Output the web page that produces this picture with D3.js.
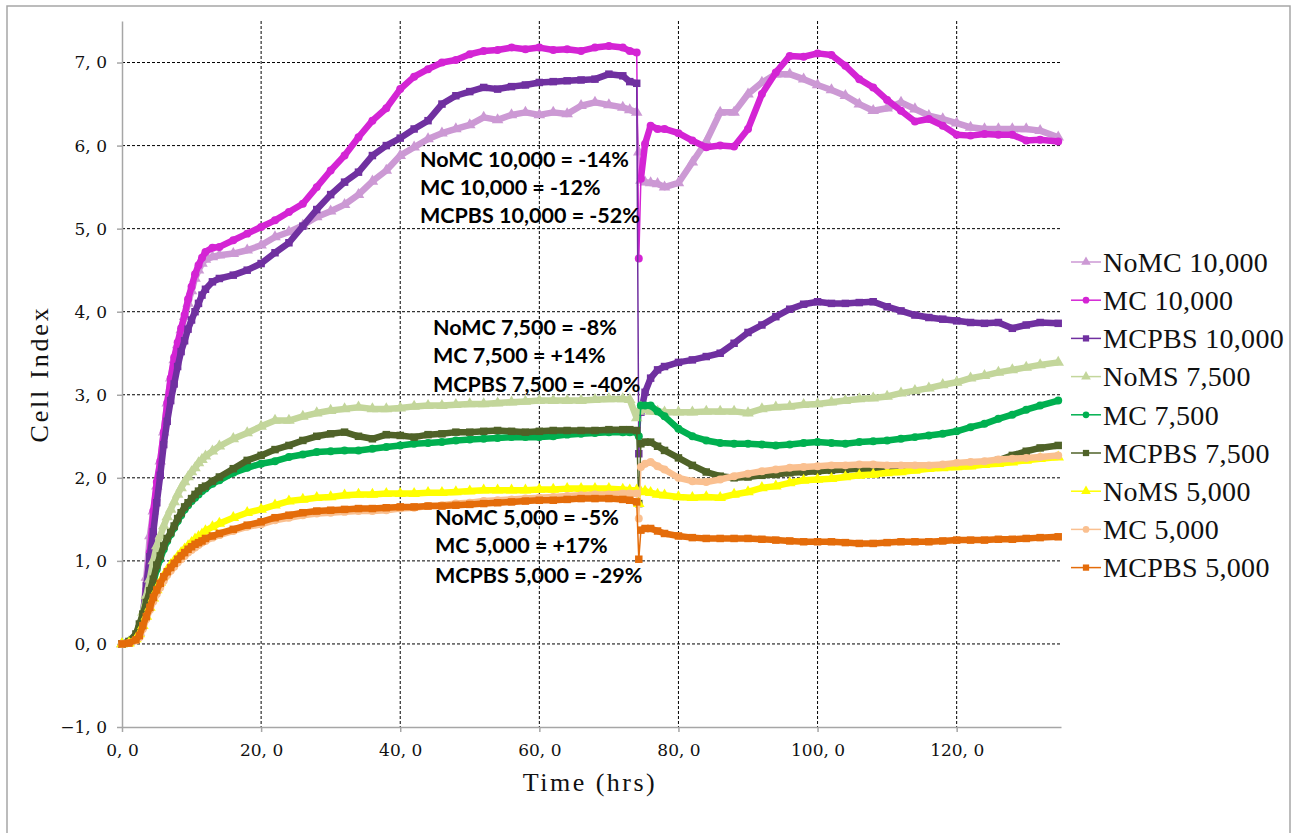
<!DOCTYPE html>
<html lang="en">
<head>
<meta charset="UTF-8">
<title>Cell Index</title>
<script src="https://d3js.org/d3.v7.min.js"></script>
<style>
  body { margin: 0; background: #fff; }
  .serif-title { font-family: "Liberation Serif", "DejaVu Serif", serif; fill: #111; }
</style>
</head>
<body>
<div class="canvas"></div>
<script>
  // measurement times (hrs), shared by all series
  const time = [0, 1, 2, 2.5, 3, 3.5, 4, 4.5, 5, 5.5, 6, 6.5, 7, 7.5, 8, 8.5, 9, 9.5, 10, 10.5, 11, 11.5, 12,
    13, 14,
    16, 18, 20, 22, 24, 26, 28, 30, 32, 34, 36, 38, 40, 42, 44, 46, 48, 50, 52, 54, 56, 58, 60, 62, 64, 66, 68, 70, 72,
    73, 74, 74.3, 74.6, 75.2, 76, 77, 78,
    80, 82, 84, 86, 88, 90, 92, 94, 96, 98, 100, 102, 104, 106, 108, 110, 112, 114, 116, 118, 120, 122, 124, 126, 128, 130, 132, 134.6]

  const noMC10000 = [0, 0.02, 0.08, 0.14, 0.3, 0.8, 1.3, 1.6, 1.9, 2.2, 2.55, 2.9, 3.2, 3.42, 3.6, 3.78, 3.94, 4.1, 4.25, 4.4, 4.5, 4.58, 4.63,
    4.66, 4.68,
    4.7, 4.74, 4.8, 4.9, 4.96, 5.04, 5.14, 5.21, 5.29, 5.41, 5.57, 5.7, 5.88, 5.98, 6.08, 6.15, 6.2, 6.25, 6.34, 6.31, 6.37, 6.4, 6.37, 6.4, 6.38, 6.48, 6.52, 6.49, 6.46,
    6.43, 6.4, 5.92, 5.58, 5.56, 5.55, 5.54, 5.5,
    5.55, 5.8, 6.05, 6.4, 6.4, 6.62, 6.76, 6.86, 6.86, 6.8, 6.73, 6.67, 6.6, 6.5, 6.42, 6.45, 6.52, 6.44, 6.36, 6.32, 6.27, 6.22, 6.2, 6.2, 6.2, 6.2, 6.18, 6.1]

  const mc10000 = [0, 0.02, 0.08, 0.13, 0.25, 0.65, 1.1, 1.6, 1.95, 2.2, 2.55, 2.9, 3.2, 3.45, 3.63, 3.8, 3.96, 4.15, 4.3, 4.45, 4.56, 4.65, 4.72,
    4.77, 4.78,
    4.86, 4.94, 5.02, 5.1, 5.2, 5.3, 5.5, 5.7, 5.88, 6.1, 6.3, 6.45, 6.68, 6.83, 6.92, 7.0, 7.03, 7.1, 7.14, 7.15, 7.18, 7.16, 7.18, 7.15, 7.16, 7.14, 7.18, 7.2, 7.18,
    7.14, 7.12, 4.64, 5.6, 6.02, 6.24, 6.2, 6.2,
    6.15, 6.06, 5.98, 6.0, 5.99, 6.2, 6.62, 6.88, 7.08, 7.07, 7.11, 7.09, 6.96, 6.8, 6.7, 6.55, 6.42, 6.29, 6.32, 6.24, 6.13, 6.12, 6.14, 6.13, 6.13, 6.06, 6.07, 6.05]

  const mcpbs10000 = [0, 0.02, 0.08, 0.15, 0.35, 0.7, 1.05, 1.35, 1.7, 2.03, 2.4, 2.68, 2.93, 3.13, 3.34, 3.52, 3.65, 3.79, 3.9, 4.0, 4.1, 4.2, 4.27,
    4.36, 4.4,
    4.44, 4.5, 4.58, 4.71, 4.83, 5.03, 5.23, 5.41, 5.56, 5.68, 5.88, 6.0, 6.09, 6.2, 6.3, 6.5, 6.6, 6.65, 6.7, 6.68, 6.71, 6.73, 6.76, 6.77, 6.78, 6.79, 6.8, 6.86, 6.84,
    6.77, 6.75, 2.29, 2.79, 3.03, 3.2, 3.3, 3.34,
    3.39, 3.42, 3.46, 3.5, 3.62, 3.75, 3.84, 3.94, 4.03, 4.09, 4.12, 4.1, 4.1, 4.11, 4.12, 4.06, 4.01, 3.96, 3.93, 3.91, 3.89, 3.87, 3.86, 3.87, 3.8, 3.84, 3.87, 3.86]

  const noMS7500 = [0, 0.02, 0.1, 0.2, 0.38, 0.58, 0.78, 1.0, 1.18, 1.3, 1.42, 1.53, 1.62, 1.71, 1.8, 1.88, 1.95, 2.01, 2.07, 2.12, 2.18, 2.22, 2.26,
    2.32, 2.38,
    2.47, 2.54, 2.62, 2.69, 2.69, 2.74, 2.78, 2.81, 2.83, 2.85, 2.83, 2.83, 2.84, 2.86, 2.87, 2.87, 2.88, 2.89, 2.89, 2.9, 2.91, 2.92, 2.93, 2.93, 2.93, 2.93, 2.94, 2.95, 2.95,
    2.94, 2.72, 2.8, 2.85, 2.82, 2.8, 2.8, 2.79,
    2.79, 2.79, 2.8, 2.8, 2.8, 2.78, 2.83, 2.85, 2.86, 2.88, 2.89, 2.91, 2.93, 2.95, 2.96, 2.98, 3.02, 3.05, 3.08, 3.12, 3.15, 3.2, 3.23, 3.27, 3.3, 3.33, 3.36, 3.39]

  const mc7500 = [0, 0.03, 0.1, 0.2, 0.32, 0.46, 0.6, 0.74, 0.9, 1.02, 1.14, 1.24, 1.32, 1.4, 1.48, 1.55, 1.62, 1.67, 1.72, 1.76, 1.8, 1.84, 1.87,
    1.93, 1.97,
    2.06, 2.12, 2.17, 2.2, 2.25, 2.28, 2.31, 2.32, 2.33, 2.33, 2.35, 2.37, 2.39, 2.41, 2.42, 2.43, 2.45, 2.46, 2.47, 2.48, 2.49, 2.49, 2.49, 2.5, 2.52, 2.53, 2.54, 2.55, 2.55,
    2.55, 2.55, 2.5, 2.87, 2.87, 2.87, 2.8, 2.74,
    2.59, 2.5, 2.45, 2.42, 2.41, 2.41, 2.4, 2.39, 2.4, 2.42, 2.43, 2.42, 2.41, 2.43, 2.44, 2.45, 2.47, 2.49, 2.51, 2.53, 2.56, 2.61, 2.65, 2.71, 2.76, 2.82, 2.87, 2.93]

  const mcpbs7500 = [0, 0.03, 0.12, 0.24, 0.36, 0.5, 0.64, 0.78, 0.95, 1.06, 1.18, 1.27, 1.34, 1.42, 1.51, 1.58, 1.65, 1.7, 1.75, 1.8, 1.84, 1.88, 1.9,
    1.96, 2.01,
    2.11, 2.21, 2.27, 2.34, 2.39, 2.45, 2.5, 2.53, 2.55, 2.5, 2.47, 2.52, 2.51, 2.49, 2.52, 2.53, 2.55, 2.55, 2.56, 2.57, 2.56, 2.55, 2.56, 2.57, 2.57, 2.57, 2.57, 2.58, 2.58,
    2.58, 2.57, 1.69, 2.41, 2.43, 2.43, 2.38, 2.33,
    2.24, 2.15, 2.07, 2.02, 2.0, 2.01, 2.03, 2.04, 2.06, 2.07, 2.08, 2.09, 2.1, 2.11, 2.11, 2.11, 2.12, 2.12, 2.13, 2.14, 2.15, 2.16, 2.18, 2.21, 2.27, 2.32, 2.36, 2.39]

  const noMS5000 = [0, 0.01, 0.06, 0.12, 0.22, 0.33, 0.44, 0.55, 0.65, 0.74, 0.82, 0.89, 0.95, 1.0, 1.05, 1.1, 1.14, 1.18, 1.22, 1.26, 1.29, 1.32, 1.36,
    1.41, 1.45,
    1.52, 1.58, 1.62, 1.67, 1.72, 1.74, 1.76, 1.77, 1.79, 1.8, 1.8, 1.81, 1.81, 1.81, 1.82, 1.82, 1.83, 1.84, 1.85, 1.85, 1.85, 1.85, 1.86, 1.86, 1.87, 1.87, 1.87, 1.87, 1.86,
    1.85, 1.85, 1.69, 1.83, 1.84, 1.82, 1.8, 1.79,
    1.77, 1.76, 1.77, 1.76, 1.8, 1.83, 1.88, 1.9, 1.94, 1.97, 1.98, 1.99, 2.01, 2.03, 2.04, 2.06, 2.07, 2.09, 2.11, 2.12, 2.13, 2.14, 2.16, 2.17, 2.19, 2.21, 2.23, 2.25]

  const mc5000 = [0, 0.01, 0.04, 0.08, 0.18, 0.3, 0.41, 0.51, 0.6, 0.68, 0.76, 0.83, 0.88, 0.93, 0.98, 1.02, 1.06, 1.1, 1.13, 1.16, 1.19, 1.22, 1.24,
    1.28, 1.31,
    1.36, 1.41, 1.44, 1.49, 1.52, 1.55, 1.57, 1.58, 1.59, 1.6, 1.6, 1.61, 1.63, 1.64, 1.66, 1.67, 1.69, 1.7, 1.72, 1.73, 1.74, 1.75, 1.76, 1.77, 1.78, 1.79, 1.8, 1.8, 1.81,
    1.81, 1.81, 1.51, 2.13, 2.17, 2.19, 2.14, 2.1,
    2.0, 1.96, 1.95, 1.98, 2.02, 2.05, 2.08, 2.1, 2.12, 2.13, 2.14, 2.15, 2.15, 2.16, 2.16, 2.15, 2.15, 2.15, 2.15, 2.16, 2.18, 2.19, 2.2, 2.22, 2.23, 2.24, 2.25, 2.27]

  const mcpbs5000 = [0, 0.01, 0.05, 0.1, 0.22, 0.33, 0.44, 0.56, 0.65, 0.73, 0.81, 0.87, 0.92, 0.97, 1.02, 1.06, 1.1, 1.14, 1.17, 1.2, 1.22, 1.24, 1.27,
    1.3, 1.33,
    1.38, 1.43, 1.47, 1.52, 1.55, 1.58, 1.6, 1.61, 1.62, 1.63, 1.63, 1.64, 1.65, 1.65, 1.66, 1.66, 1.67, 1.68, 1.69, 1.7, 1.71, 1.72, 1.73, 1.73, 1.74, 1.75, 1.75, 1.75, 1.74,
    1.73, 1.71, 1.02, 1.37, 1.39, 1.39, 1.36, 1.33,
    1.3, 1.28, 1.27, 1.27, 1.27, 1.27, 1.26, 1.25, 1.24, 1.23, 1.23, 1.23, 1.22, 1.21, 1.21, 1.22, 1.23, 1.23, 1.23, 1.24, 1.25, 1.25, 1.25, 1.26, 1.26, 1.27, 1.28, 1.29]

  const seriesNames = ['NoMC 10,000', 'MC 10,000', 'MCPBS 10,000', 'NoMS 7,500', 'MC 7,500', 'MCPBS 7,500', 'NoMS 5,000', 'MC 5,000', 'MCPBS 5,000']
  const seriesValues = [noMC10000, mc10000, mcpbs10000, noMS7500, mc7500, mcpbs7500, noMS5000, mc5000, mcpbs5000]

  const xTicks = [0, 20, 40, 60, 80, 100, 120]
  const yTicks = [-1, 0, 1, 2, 3, 4, 5, 6, 7]

  const notes10000 = ['NoMC 10,000 = -14%', 'MC 10,000 = -12%', 'MCPBS 10,000 = -52%']
  const notes7500 = ['NoMC 7,500 = -8%', 'MC 7,500 = +14%', 'MCPBS 7,500 = -40%']
  const notes5000 = ['NoMC 5,000 = -5%', 'MC 5,000 = +17%', 'MCPBS 5,000 = -29%']

  // styles
  const colors = ['#cc99d4', '#d424d4', '#7030a0', '#c3d69b', '#00b050', '#4f6228', '#ffff00', '#fac090', '#e46c0a']
  const shapes = [d3.symbolTriangle, d3.symbolCircle, d3.symbolSquare,
                  d3.symbolTriangle, d3.symbolCircle, d3.symbolSquare,
                  d3.symbolTriangle, d3.symbolCircle, d3.symbolSquare]
  const sizeOf = s => s === d3.symbolTriangle ? 58 : s === d3.symbolCircle ? 50 : 56

  const width = 1293
  const height = 833
  const [mt, ml] = [21, 122]
  const graphWidth = 1061 - ml
  const graphHeight = 727 - mt

  const svg = d3.select('.canvas')
    .append('svg')
    .attr('width', width)
    .attr('height', height)
    .style('display', 'block')

  svg.append('rect')
    .attr('x', 7).attr('y', 6)
    .attr('width', 1283).attr('height', 850)
    .attr('fill', 'none')
    .attr('stroke', '#a6a6a6')
    .attr('stroke-width', 1.5)

  const graph = svg.append('g')
    .attr('transform', `translate(${ml}, ${mt})`)

  const x = d3.scaleLinear().domain([0, 135]).range([0, graphWidth])
  const y = d3.scaleLinear().domain([-1, 7.5]).range([graphHeight, 0])

  // dashed grid
  graph.append('g').selectAll('line')
    .data(yTicks.filter(v => v > -1))
    .enter().append('line')
    .attr('x1', 0).attr('x2', graphWidth)
    .attr('y1', d => y(d)).attr('y2', d => y(d))
    .attr('stroke', '#000').attr('stroke-width', 1)
    .attr('stroke-dasharray', '3,2')
  graph.append('g').selectAll('line')
    .data(xTicks.filter(v => v > 0))
    .enter().append('line')
    .attr('y1', 0).attr('y2', graphHeight)
    .attr('x1', d => x(d)).attr('x2', d => x(d))
    .attr('stroke', '#000').attr('stroke-width', 1)
    .attr('stroke-dasharray', '3,2')

  const fmt = v => (v < 0 ? '\u2212' : '') + Math.abs(v) + ', 0'

  const yAxisG = graph.append('g')
    .call(d3.axisLeft(y).tickValues(yTicks).tickSize(5).tickSizeOuter(0).tickPadding(10).tickFormat(fmt))
  const xAxisG = graph.append('g')
    .attr('transform', `translate(0, ${graphHeight})`)
    .call(d3.axisBottom(x).tickValues(xTicks).tickSize(5).tickSizeOuter(0).tickPadding(12).tickFormat(fmt))

  for (const g of [xAxisG, yAxisG]) {
    g.attr('font-family', '"DejaVu Serif", "Liberation Serif", serif').attr('font-size', 17)
    g.select('.domain').attr('stroke', '#a6a6a6').attr('stroke-width', 1.5)
    g.selectAll('.tick line').attr('stroke', '#a6a6a6').attr('stroke-width', 1.5)
    g.selectAll('.tick text')
      .attr('fill', '#111')
      .attr('font-size', 17)
      .style('font-size', '17px')
      .style('font-family', '"DejaVu Serif", "Liberation Serif", serif')
  }

  // series
  const dropTime = 74.3
  const band = d3.line()
    .defined(d => d.t !== dropTime)
    .x(d => x(d.t)).y(d => y(d.v))
  const thin = d3.line().x(d => x(d.t)).y(d => y(d.v))

  seriesValues.forEach((vals, i) => {
    const pts = time.map((t, k) => ({ t: t, v: vals[k] }))
    const g = graph.append('g')
    g.append('path')
      .attr('d', thin(pts))
      .attr('fill', 'none').attr('stroke', colors[i]).attr('stroke-width', 1.5)
    g.append('path')
      .attr('d', band(pts))
      .attr('fill', 'none').attr('stroke', colors[i]).attr('stroke-width', 6.5)
      .attr('stroke-linejoin', 'round')
    g.selectAll('path.mark')
      .data(pts)
      .enter().append('path')
      .attr('class', 'mark')
      .attr('d', d3.symbol().type(shapes[i]).size(sizeOf(shapes[i])))
      .attr('transform', d => `translate(${x(d.t)}, ${y(d.v)})`)
      .attr('fill', colors[i])
  })

  // annotations
  const notes = svg.append('g')
    .style('font-family', 'Lato, "Open Sans", sans-serif')
    .style('font-weight', 700)
    .style('font-size', '21.5px')
    .attr('fill', '#000')
  const addNotes = (lines, nx, baselines) => {
    notes.selectAll(null)
      .data(lines)
      .enter().append('text')
      .attr('x', nx)
      .attr('y', (d, i) => baselines[i])
      .text(d => d)
  }
  addNotes(notes10000, 420, [167, 195, 223])
  addNotes(notes7500, 433, [335, 363, 392])
  addNotes(notes5000, 435, [525, 553, 583])

  // axis titles
  svg.append('text')
    .attr('class', 'serif-title')
    .attr('transform', 'translate(48, 374) rotate(-90)')
    .attr('text-anchor', 'middle')
    .style('font-size', '26px')
    .style('letter-spacing', '2.8px')
    .text('Cell Index')

  svg.append('text')
    .attr('class', 'serif-title')
    .attr('x', 590).attr('y', 791)
    .attr('text-anchor', 'middle')
    .style('font-size', '26px')
    .style('letter-spacing', '2.5px')
    .text('Time (hrs)')

  // legend
  const legend = svg.append('g')
  seriesNames.forEach((name, i) => {
    const cy = 262 + i * 38.2
    const row = legend.append('g').attr('transform', `translate(1071, ${cy})`)
    row.append('line')
      .attr('x1', 0).attr('x2', 30).attr('y1', 0).attr('y2', 0)
      .attr('stroke', colors[i]).attr('stroke-width', 1.5)
    row.append('path')
      .attr('d', d3.symbol().type(shapes[i]).size(sizeOf(shapes[i]) * 0.7))
      .attr('transform', 'translate(15, 0)')
      .attr('fill', colors[i])
    row.append('text')
      .attr('class', 'serif-title')
      .attr('x', 32)
      .attr('dy', '0.35em')
      .style('font-size', '28px')
      .style('letter-spacing', '0.3px')
      .text(name)
  })
</script>
</body>
</html>
